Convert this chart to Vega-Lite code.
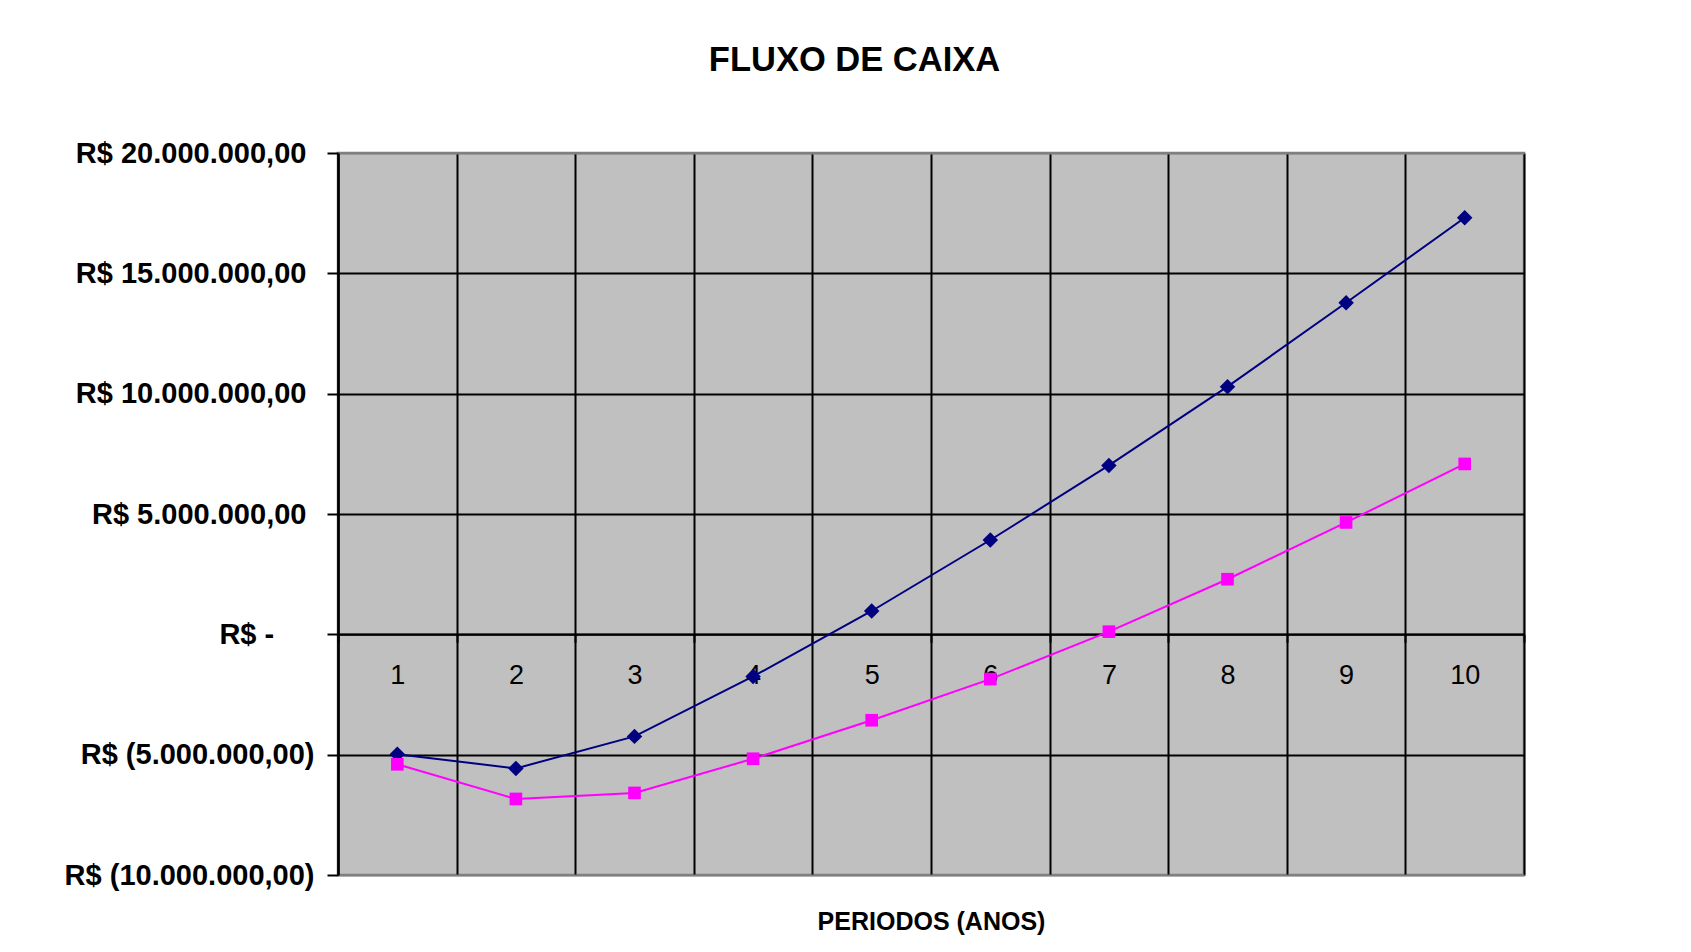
{
  "$schema": "https://vega.github.io/schema/vega-lite/v6.json",
  "autosize": "none",
  "width": 1186,
  "height": 722,
  "padding": {"left": 338, "top": 153, "right": 167, "bottom": 77},
  "background": "white",
  "title": {
    "text": "FLUXO DE CAIXA",
    "font": "Liberation Sans",
    "fontSize": 34.5,
    "fontWeight": "bold",
    "color": "black",
    "anchor": "middle",
    "frame": "group",
    "dx": -76.5,
    "offset": 61
  },
  "config": {
    "font": "Liberation Sans",
    "view": {"fill": "#C0C0C0", "stroke": "#808080", "strokeWidth": 2.5}
  },
  "data": {
    "values": [
      {"periodo": 1, "serie": "Série1", "valor": -4980000},
      {"periodo": 2, "serie": "Série1", "valor": -5570000},
      {"periodo": 3, "serie": "Série1", "valor": -4240000},
      {"periodo": 4, "serie": "Série1", "valor": -1750000},
      {"periodo": 5, "serie": "Série1", "valor": 970000},
      {"periodo": 6, "serie": "Série1", "valor": 3920000},
      {"periodo": 7, "serie": "Série1", "valor": 7020000},
      {"periodo": 8, "serie": "Série1", "valor": 10290000},
      {"periodo": 9, "serie": "Série1", "valor": 13780000},
      {"periodo": 10, "serie": "Série1", "valor": 17310000},
      {"periodo": 1, "serie": "Série2", "valor": -5400000},
      {"periodo": 2, "serie": "Série2", "valor": -6840000},
      {"periodo": 3, "serie": "Série2", "valor": -6590000},
      {"periodo": 4, "serie": "Série2", "valor": -5170000},
      {"periodo": 5, "serie": "Série2", "valor": -3570000},
      {"periodo": 6, "serie": "Série2", "valor": -1860000},
      {"periodo": 7, "serie": "Série2", "valor": 110000},
      {"periodo": 8, "serie": "Série2", "valor": 2290000},
      {"periodo": 9, "serie": "Série2", "valor": 4650000},
      {"periodo": 10, "serie": "Série2", "valor": 7080000}
    ]
  },
  "encoding": {
    "x": {
      "field": "periodo",
      "type": "ordinal",
      "scale": {"paddingInner": 0, "paddingOuter": 0},
      "axis": {
        "title": "PERIODOS (ANOS)",
        "titleFont": "Liberation Sans",
        "titleFontSize": 25,
        "titleFontWeight": "bold",
        "titleColor": "black",
        "titleBaseline": "alphabetic",
        "titleY": 295,
        "labelAngle": 0,
        "labelFont": "Liberation Sans",
        "labelFontSize": 27,
        "labelFontWeight": "normal",
        "labelColor": "black",
        "labelBaseline": "middle",
        "labelPadding": 33,
        "tickBand": "extent",
        "tickSize": 8,
        "tickColor": "black",
        "tickWidth": 2,
        "domainColor": "black",
        "domainWidth": 2,
        "grid": true,
        "gridColor": "black",
        "gridWidth": 2,
        "gridOpacity": 1,
        "offset": -240.67
      }
    },
    "y": {
      "field": "valor",
      "type": "quantitative",
      "scale": {"domain": [-10000000, 20000000], "nice": false, "zero": false},
      "axis": {
        "title": null,
        "values": [-10000000, -5000000, 0, 5000000, 10000000, 15000000, 20000000],
        "labelExpr": "datum.value == 20000000 ? 'R$ 20.000.000,00\u00a0\u200b' : datum.value == 15000000 ? 'R$ 15.000.000,00\u00a0\u200b' : datum.value == 10000000 ? 'R$ 10.000.000,00\u00a0\u200b' : datum.value == 5000000 ? 'R$ 5.000.000,00\u00a0\u200b' : datum.value == 0 ? 'R$ -\u00a0\u00a0\u00a0\u00a0\u00a0\u200b' : datum.value == -5000000 ? 'R$ (5.000.000,00)' : 'R$ (10.000.000,00)'",
        "labelFont": "Liberation Sans",
        "labelFontSize": 29,
        "labelFontWeight": "bold",
        "labelColor": "black",
        "labelLimit": 600,
        "labelPadding": 13,
        "labelBaseline": "middle",
        "tickSize": 11,
        "tickColor": "black",
        "tickWidth": 2,
        "domainColor": "black",
        "domainWidth": 2.5,
        "grid": true,
        "gridColor": {"condition": {"test": "datum.value == 20000000 || datum.value == -10000000", "value": "#808080"}, "value": "black"},
        "gridWidth": 2,
        "gridOpacity": 1
      }
    },
    "color": {
      "field": "serie",
      "type": "nominal",
      "scale": {"domain": ["Série1", "Série2"], "range": ["#000080", "#FF00FF"]},
      "legend": null
    }
  },
  "layer": [
    {"mark": {"type": "line", "strokeWidth": 2}},
    {
      "mark": {"type": "point", "filled": true, "opacity": 1},
      "encoding": {
        "shape": {
          "field": "serie",
          "type": "nominal",
          "scale": {"domain": ["Série1", "Série2"], "range": ["diamond", "square"]},
          "legend": null
        },
        "size": {
          "field": "serie",
          "type": "nominal",
          "scale": {"domain": ["Série1", "Série2"], "range": [240, 160]},
          "legend": null
        }
      }
    }
  ]
}
